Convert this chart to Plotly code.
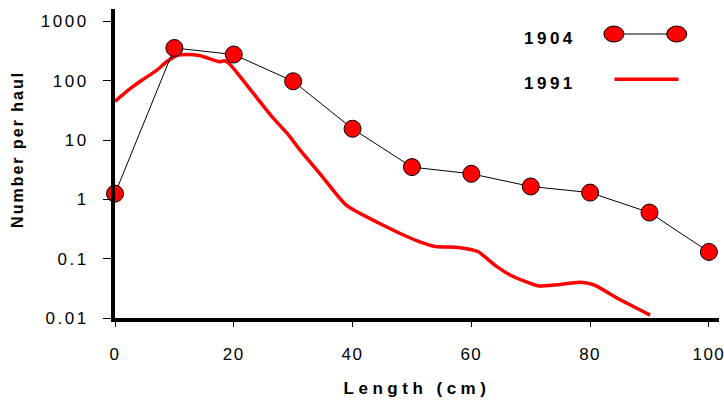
import plotly.graph_objects as go

# 1904 survey
len_1904 = [0, 10, 20, 30, 40, 50, 60, 70, 80, 90, 100]
num_1904 = [1.25, 357, 277, 98, 15.5, 3.5, 2.7, 1.65, 1.3, 0.6, 0.13]

# 1991 survey
len_1991 = [0, 2.5, 4.7, 7.0, 8.7, 10.4, 12.1, 14.2, 17.6, 18.4, 19.3, 20.9, 23.1,
            26.5, 29.3, 31.0, 34.8, 39.0, 44.4, 51.1, 53.9, 57.8, 61.1, 64.0,
            66.7, 71.2, 74.0, 78.4, 80.7, 84.6, 90.1]
num_1991 = [45, 73, 105, 150, 209, 267, 278, 267, 209, 217, 192, 123, 65,
            24.4, 11.9, 7.1, 2.5, 0.79, 0.40, 0.196, 0.161, 0.155, 0.132, 0.077,
            0.052, 0.035, 0.036, 0.040, 0.036, 0.0215, 0.0112]

series_names = ["1904", "1991"]
x_ticks = [0, 20, 40, 60, 80, 100]
y_ticks = [0.01, 0.1, 1, 10, 100, 1000]
y_tick_text = ["0.01", "0.1", "1", "10", "100", "1000"]

FONT = "Liberation Sans, Arial, sans-serif"
RED = "#ff0000"

fig = go.Figure()
fig.add_trace(go.Scatter(
    x=len_1991, y=num_1991, mode="lines", name=series_names[1],
    line=dict(color=RED, width=3.5, shape="spline", smoothing=0.6),
))
fig.add_trace(go.Scatter(
    x=len_1904, y=num_1904, mode="lines+markers", name=series_names[0],
    line=dict(color="black", width=1),
    marker=dict(color=RED, size=17, line=dict(color="black", width=1)),
    cliponaxis=False,
))

fig.update_layout(
    width=724, height=405,
    margin=dict(l=115, r=5, t=9, b=87),
    plot_bgcolor="white", paper_bgcolor="white",
    showlegend=False,
    font=dict(family=FONT, color="black"),
    xaxis=dict(
        range=[0, 101.7], tickvals=x_ticks, ticks="outside", ticklen=5,
        tickwidth=1, tickcolor="black", showgrid=False, zeroline=False,
        showline=True, linecolor="black", linewidth=4,
        tickfont=dict(size=17, family=FONT), ticklabelstandoff=13,
        ticklabeloverflow="allow",
        title=dict(text="<b>Length (cm)</b>", font=dict(size=17, family=FONT), standoff=20),
        automargin=False,
    ),
    yaxis=dict(
        type="log", range=[-2, 3.21], tickvals=y_ticks, ticktext=y_tick_text,
        ticks="outside", ticklen=8, tickwidth=1, tickcolor="black",
        showgrid=False, zeroline=False, showline=True, linecolor="black", linewidth=4,
        tickfont=dict(size=17, family=FONT), ticklabelstandoff=11,
        automargin=False,
    ),
)

# y-axis title as annotation (positioned like the reference)
fig.add_annotation(xref="paper", yref="paper", x=0, y=0.544, xshift=-97,
                   text="<b>Number per haul</b>", textangle=-90, showarrow=False,
                   xanchor="center", yanchor="middle", font=dict(size=16, family=FONT))

# Custom legend (text on the left, sample on the right)
fig.add_annotation(xref="paper", yref="paper", x=0.720, y=0.906, text="<b>" + series_names[0] + "</b>",
                   showarrow=False, xanchor="center", yanchor="middle", font=dict(size=17, family=FONT))
fig.add_annotation(xref="paper", yref="paper", x=0.720, y=0.760, text="<b>" + series_names[1] + "</b>",
                   showarrow=False, xanchor="center", yanchor="middle", font=dict(size=17, family=FONT))
fig.add_shape(type="line", xref="paper", yref="paper", x0=0.826, x1=0.930, y0=0.919, y1=0.919,
              line=dict(color="black", width=1))
for xc in [0.826, 0.930]:
    fig.add_shape(type="circle", xref="paper", yref="paper",
                  x0=xc - 0.0166, x1=xc + 0.0166, y0=0.919 - 0.0259, y1=0.919 + 0.0259,
                  fillcolor=RED, line=dict(color="black", width=1))
fig.add_shape(type="line", xref="paper", yref="paper", x0=0.827, x1=0.933, y0=0.773, y1=0.773,
              line=dict(color=RED, width=3.5))

post = """
document.body.style.margin = '0';
document.body.style.overflow = 'hidden';
var gd = document.getElementById('{plot_id}');
function sp(sel, v) { gd.querySelectorAll(sel).forEach(function(t){ t.setAttribute('letter-spacing', v); }); }
sp('.xtick text', '1.5px');
sp('.ytick text', '2.5px');
sp('.g-xtitle text', '4.5px');
var ann = gd.querySelectorAll('.annotation-text');
if (ann.length > 0) ann[0].setAttribute('letter-spacing', '2px');
for (var i = 1; i < ann.length; i++) ann[i].setAttribute('letter-spacing', '3.5px');
"""

fig.write_html("out.html", post_script=post, config={"displayModeBar": False})
